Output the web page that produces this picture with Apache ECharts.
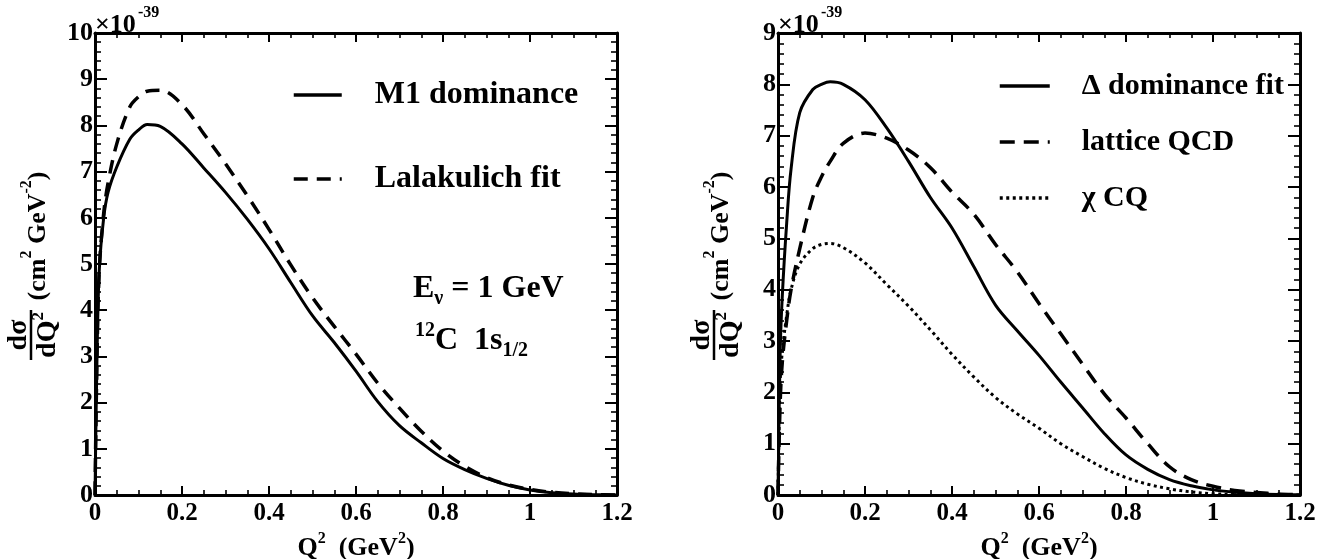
<!DOCTYPE html>
<html>
<head>
<meta charset="utf-8">
<script src="https://cdn.jsdelivr.net/npm/echarts@6/dist/echarts.min.js"></script>
<style>
  html, body { margin: 0; padding: 0; background: #ffffff; }
  #chart { width: 1332px; height: 559px; }
</style>
</head>
<body>
<div id="chart"></div>
<script>
// Q^2 sampling points (GeV^2), shared by every curve
const q2 = [0, 0.005, 0.01, 0.02, 0.03, 0.05, 0.08, 0.1, 0.12, 0.15, 0.2, 0.25, 0.3, 0.35, 0.4,
            0.45, 0.5, 0.55, 0.6, 0.65, 0.7, 0.75, 0.8, 0.85, 0.9, 0.95, 1.0, 1.05, 1.1, 1.15, 1.2];

// dσ/dQ² in units of 1e-39 cm² GeV⁻², left panel (E_ν = 1 GeV, ¹²C 1s1/2)
const m1Dominance = [0, 3.2, 4.9, 6.0, 6.55, 7.1, 7.7, 7.9, 8.02, 7.98, 7.6, 7.08, 6.55, 5.97, 5.33,
                     4.6, 3.88, 3.3, 2.68, 2.02, 1.5, 1.13, 0.79, 0.55, 0.36, 0.21, 0.11, 0.05, 0.02, 0.007, 0.002];
const lalakulichFit = [0, 3.2, 4.9, 6.1, 6.75, 7.6, 8.4, 8.62, 8.74, 8.76, 8.45, 7.82, 7.17, 6.48, 5.75,
                       4.98, 4.27, 3.65, 3.05, 2.42, 1.88, 1.38, 0.95, 0.62, 0.38, 0.22, 0.12, 0.06, 0.025, 0.008, 0.002];

// right panel
const deltaDominanceFit = [0, 2.8, 3.9, 5.3, 6.35, 7.45, 7.9, 8.0, 8.05, 8.0, 7.7, 7.15, 6.5, 5.8, 5.2,
                           4.45, 3.7, 3.2, 2.72, 2.2, 1.7, 1.2, 0.78, 0.5, 0.3, 0.18, 0.1, 0.055, 0.025, 0.01, 0.003];
const latticeQCD = [0, 1.8, 2.6, 3.4, 4.0, 4.8, 5.8, 6.2, 6.5, 6.85, 7.05, 6.95, 6.72, 6.38, 5.9,
                    5.47, 4.88, 4.35, 3.73, 3.14, 2.55, 1.97, 1.5, 1.0, 0.55, 0.3, 0.17, 0.09, 0.05, 0.02, 0.005];
const chiCQ = [0, 2.2, 2.8, 3.5, 4.0, 4.5, 4.8, 4.88, 4.9, 4.82, 4.52, 4.1, 3.68, 3.22, 2.74,
               2.3, 1.9, 1.58, 1.3, 1.0, 0.75, 0.52, 0.34, 0.21, 0.12, 0.06, 0.025, 0.01, 0.003, 0.001, 0];

// axis ranges
const xRange = [0, 1.2, 0.2];
const yRangeLeft = [0, 10, 1];
const yRangeRight = [0, 9, 1];

const FONT = '"Liberation Serif", "Times New Roman", serif';
const BLACK = '#000000';

const gridL = { left: 95, top: 33, width: 522, height: 462 };
const gridR = { left: 778, top: 33, width: 522, height: 462 };

function xAxisCfg(gridIndex, position) {
  return {
    type: 'value', gridIndex: gridIndex, position: position,
    min: xRange[0], max: xRange[1], interval: xRange[2],
    axisLine: { show: true, onZero: false, lineStyle: { color: BLACK, width: 3 } },
    axisTick: { show: true, inside: true, length: 9, lineStyle: { color: BLACK, width: 2 } },
    minorTick: { show: true, splitNumber: 4, length: 5, lineStyle: { color: BLACK, width: 1.6 } },
    splitLine: { show: false }, minorSplitLine: { show: false },
    axisLabel: position === 'bottom'
      ? { show: true, margin: 6, color: BLACK, fontFamily: FONT, fontWeight: 'bold', fontSize: 25 }
      : { show: false },
    name: position === 'bottom' ? '{m|Q}{s|2}{m|  (GeV}{s|2}{m|)}' : '',
    nameLocation: 'middle', nameGap: 33,
    nameTextStyle: {
      rich: {
        m: { fontFamily: FONT, fontWeight: 'bold', fontSize: 26, color: BLACK, lineHeight: 30, verticalAlign: 'bottom' },
        s: { fontFamily: FONT, fontWeight: 'bold', fontSize: 16, color: BLACK, lineHeight: 16, verticalAlign: 'top' }
      }
    }
  };
}

function yAxisCfg(gridIndex, position, range) {
  return {
    type: 'value', gridIndex: gridIndex, position: position,
    min: range[0], max: range[1], interval: range[2],
    axisLine: { show: true, onZero: false, lineStyle: { color: BLACK, width: 3 } },
    axisTick: { show: true, inside: true, length: 12, lineStyle: { color: BLACK, width: 2 } },
    minorTick: { show: true, splitNumber: 5, length: 6, lineStyle: { color: BLACK, width: 1.6 } },
    splitLine: { show: false }, minorSplitLine: { show: false },
    axisLabel: position === 'left'
      ? { show: true, margin: 2, color: BLACK, fontFamily: FONT, fontWeight: 'bold', fontSize: 26 }
      : { show: false }
  };
}

function curve(name, values, xi, yi, width, type) {
  return {
    name: name, type: 'line', xAxisIndex: xi, yAxisIndex: yi,
    data: q2.map(function (x, i) { return [x, values[i]]; }),
    symbol: 'none', showSymbol: false, smooth: 0.35,
    lineStyle: { color: BLACK, width: width, type: type, cap: 'butt', join: 'round' },
    itemStyle: { color: BLACK },
    emphasis: { disabled: true }, silent: true, animation: false
  };
}

const richAnno = {
  m: { fontFamily: FONT, fontWeight: 'bold', fontSize: 32, fill: BLACK, lineHeight: 40, verticalAlign: 'middle' },
  sub: { fontFamily: FONT, fontWeight: 'bold', fontSize: 20, fill: BLACK, lineHeight: 20, verticalAlign: 'bottom' },
  sup: { fontFamily: FONT, fontWeight: 'bold', fontSize: 20, fill: BLACK, lineHeight: 20, verticalAlign: 'top' }
};

const richTitle = {
  m: { fontFamily: FONT, fontWeight: 'bold', fontSize: 26, fill: BLACK, lineHeight: 32, verticalAlign: 'bottom' },
  s: { fontFamily: FONT, fontWeight: 'bold', fontSize: 16, fill: BLACK, lineHeight: 16, verticalAlign: 'top' },
  f: { fontFamily: FONT, fontWeight: 'bold', fontSize: 28, fill: BLACK, lineHeight: 32, verticalAlign: 'bottom' },
  fs: { fontFamily: FONT, fontWeight: 'bold', fontSize: 17, fill: BLACK, lineHeight: 17, verticalAlign: 'top' }
};

// rotated y-axis title: d sigma / d Q^2 (cm^2 GeV^-2)
function yTitle(cx, cy) {
  return {
    type: 'group', x: cx, y: cy, rotation: Math.PI / 2,
    children: [
      { type: 'text', x: 0, y: -12,
        style: { text: 'dσ', font: 'bold 28px ' + FONT, fill: BLACK, align: 'center', verticalAlign: 'middle' } },
      { type: 'line', shape: { x1: -25, y1: 0, x2: 25, y2: 0 }, style: { stroke: BLACK, lineWidth: 2.5 } },
      { type: 'text', x: 0, y: 15,
        style: { text: '{f|dQ}{fs|2}', rich: richTitle, align: 'center', verticalAlign: 'middle' } },
      { type: 'text', x: 99, y: 4,
        style: { text: '{m|(cm}{s|2}{m| GeV}{s|-2}{m|)}', rich: richTitle, align: 'center', verticalAlign: 'middle' } }
    ]
  };
}

function exponent(x0) {
  return [
    { type: 'text', x: x0, y: 25,
      style: { text: '×10', font: 'bold 26px ' + FONT, fill: BLACK, align: 'left', verticalAlign: 'middle' } },
    { type: 'text', x: x0 + 43, y: 13,
      style: { text: '-39', font: 'bold 16px ' + FONT, fill: BLACK, align: 'left', verticalAlign: 'middle' } }
  ];
}

const legendCommon = {
  orient: 'vertical', selectedMode: false, padding: 0, itemHeight: 14,
  itemStyle: { color: 'rgba(0,0,0,0)', borderWidth: 0, borderColor: 'rgba(0,0,0,0)' },
  lineStyle: { width: 3.5, cap: 'butt' }
};

const chart = echarts.init(document.getElementById('chart'), null, { renderer: 'canvas' });

chart.setOption({
  backgroundColor: '#ffffff',
  animation: false,
  grid: [
    Object.assign({ outerBoundsMode: 'none', containLabel: false }, gridL),
    Object.assign({ outerBoundsMode: 'none', containLabel: false }, gridR)
  ],
  xAxis: [
    xAxisCfg(0, 'bottom'), xAxisCfg(0, 'top'),
    xAxisCfg(1, 'bottom'), xAxisCfg(1, 'top')
  ],
  yAxis: [
    yAxisCfg(0, 'left', yRangeLeft), yAxisCfg(0, 'right', yRangeLeft),
    yAxisCfg(1, 'left', yRangeRight), yAxisCfg(1, 'right', yRangeRight)
  ],
  legend: [
    Object.assign({
      data: ['M1 dominance', 'Lalakulich fit'],
      left: 292, top: 79, itemWidth: 48, itemGap: 52,
      textStyle: { fontFamily: FONT, fontWeight: 'bold', fontSize: 32, color: BLACK, padding: [0, 0, 0, 28] }
    }, legendCommon),
    Object.assign({
      data: ['Δ dominance fit', 'lattice QCD', 'χ CQ'],
      left: 998, top: 71, itemWidth: 50, itemGap: 26,
      textStyle: { fontFamily: FONT, fontWeight: 'bold', fontSize: 30, color: BLACK, padding: [0, 0, 0, 27] }
    }, legendCommon)
  ],
  series: [
    curve('M1 dominance', m1Dominance, 0, 0, 3, 'solid'),
    curve('Lalakulich fit', lalakulichFit, 0, 0, 3.5, [14, 9]),
    curve('Δ dominance fit', deltaDominanceFit, 2, 2, 3, 'solid'),
    curve('lattice QCD', latticeQCD, 2, 2, 3.5, [15, 9]),
    curve('χ CQ', chiCQ, 2, 2, 3, [3, 3.5])
  ],
  graphic: [].concat(
    exponent(95),
    exponent(778),
    [
      yTitle(31, 335),
      yTitle(714, 335),
      { type: 'text', x: 413, y: 289,
        style: { text: '{m|E}{sub|ν}{m| = 1 GeV}', rich: richAnno, align: 'left', verticalAlign: 'middle' } },
      { type: 'text', x: 415, y: 341,
        style: { text: '{sup|12}{m|C  1s}{sub|1/2}', rich: richAnno, align: 'left', verticalAlign: 'middle' } }
    ]
  )
});
</script>
</body>
</html>
